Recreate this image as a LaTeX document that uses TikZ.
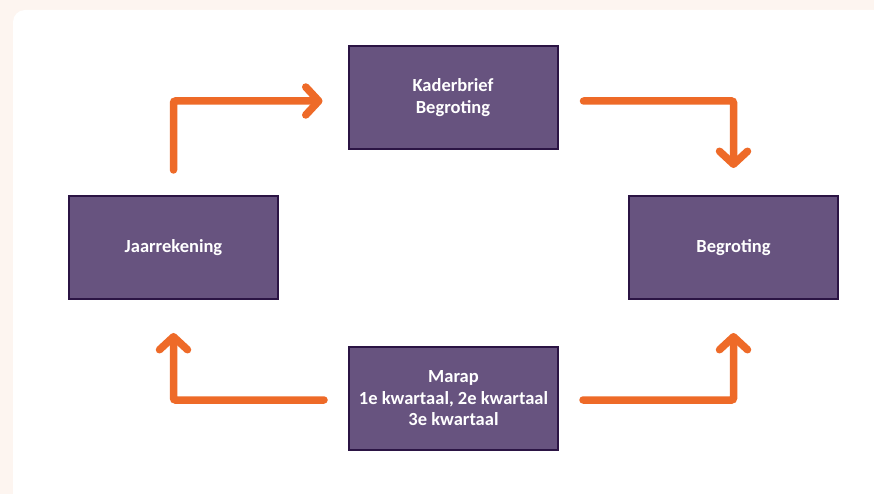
\documentclass[tikz,border=0pt]{standalone}
\usepackage{fontspec}
\setmainfont{Carlito}
\usetikzlibrary{arrows.meta}
\definecolor{cream}{HTML}{FDF5F0}
\definecolor{boxfill}{HTML}{67537F}
\definecolor{boxline}{HTML}{2B1444}
\definecolor{flowc}{HTML}{EE6A28}
\begin{document}
\begin{tikzpicture}[x=1pt,y=-1pt,
  stage/.style={draw=boxline, line width=2pt, fill=boxfill, minimum width=209pt, minimum height=103pt,
    inner sep=0pt, align=center, text=white, font=\bfseries\fontsize{18.5}{21.5}\selectfont},
  flow/.style={draw=flowc, line width=7.5pt, line cap=round, rounded corners=2pt,
    -{Straight Barb[length=13pt, width=28pt, line cap=round, line join=round]}}]
\useasboundingbox (0,0) rectangle (874,494);
\fill[cream] (0,0) rectangle (874,494);
\fill[white, rounded corners=12pt] (13,10) rectangle (900,520);
\node[stage] (kader) at (453,97.5) {Kaderbrief\\Begroting};
\node[stage] (jaar) at (173.5,247.5) {Jaarrekening};
\node[stage] (begr) at (733.5,247.5) {Begroting};
\node[stage] (marap) at (453.5,398.5) {Marap\\1e kwartaal, 2e kwartaal\\3e kwartaal};
\draw[flow, shorten <=25pt, shorten >=25pt] (jaar.north) |- ([yshift=-3.5pt]kader.west);
\draw[flow, shorten <=25pt, shorten >=27pt] ([yshift=-3.5pt]kader.east) -| (begr.north);
\draw[flow, shorten <=24pt, shorten >=33pt] ([yshift=-1.5pt]marap.east) -| (begr.south);
\draw[flow, shorten <=24pt, shorten >=33pt] ([yshift=-1.5pt]marap.west) -| (jaar.south);
\end{tikzpicture}
\end{document}
